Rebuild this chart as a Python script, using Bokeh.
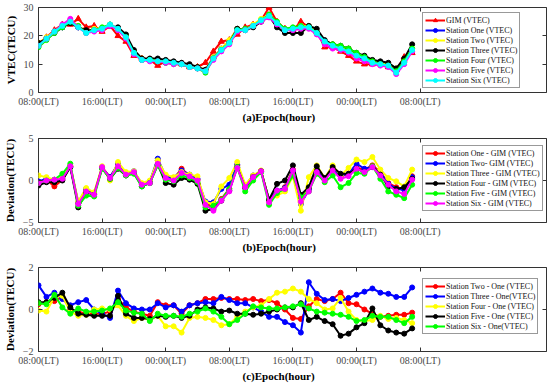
from bokeh.plotting import figure
from bokeh.models import Range1d, FixedTicker, LinearAxis, Title
from bokeh.layouts import column
from bokeh.embed import file_html
from bokeh.resources import INLINE

# ---------------- data ----------------
hours = list(range(48))
xtick_values = [0, 8, 16, 24, 32, 40, 48]
xtick_labels = ["08:00(LT)", "16:00(LT)", "00:00(LT)", "08:00(LT)",
                "16:00(LT)", "00:00(LT)", "08:00(LT)"]

# (a) VTEC
gim_vtec = [17.0, 19.5, 22.0, 24.0, 24.0, 26.0, 23.0, 23.5, 21.5, 23.5, 20.0, 18.0,
            13.0, 12.0, 11.5, 9.5, 11.0, 10.5, 10.0, 9.0, 9.0, 10.5, 14.5, 18.0,
            18.5, 20.5, 23.0, 24.0, 25.5, 30.0, 25.0, 22.5, 22.0, 25.0, 23.0, 21.5,
            16.0, 16.0, 14.5, 13.0, 11.0, 10.0, 10.0, 10.0, 9.0, 8.0, 12.5, 14.0]
st1_vtec = [17.0, 19.0, 21.5, 23.0, 25.5, 23.0, 21.5, 22.0, 22.5, 24.0, 22.0, 19.5,
            14.0, 11.5, 11.5, 11.5, 10.5, 10.5, 10.0, 9.0, 8.5, 8.0, 12.5, 15.5,
            18.0, 22.5, 22.0, 23.5, 25.5, 27.5, 24.0, 22.0, 22.5, 23.0, 23.5, 21.5,
            17.5, 16.5, 15.5, 14.5, 13.0, 11.5, 10.5, 10.0, 9.5, 7.5, 10.5, 15.0]
st2_vtec = [17.5, 19.5, 21.5, 23.5, 25.5, 23.5, 21.5, 22.5, 22.5, 24.0, 22.0, 20.0,
            14.5, 12.0, 11.5, 11.5, 11.0, 10.5, 10.0, 9.5, 9.0, 8.0, 12.5, 15.5,
            18.5, 22.5, 22.0, 24.0, 26.0, 27.5, 24.0, 22.0, 22.5, 23.5, 23.5, 21.5,
            18.0, 17.0, 16.0, 15.5, 13.5, 12.5, 11.0, 10.5, 10.0, 8.5, 11.0, 15.5]
st3_vtec = [17.5, 19.0, 21.0, 23.0, 24.5, 23.0, 22.0, 22.0, 22.5, 23.5, 23.0, 20.5,
            15.0, 12.0, 12.0, 12.0, 11.5, 11.0, 10.5, 10.0, 9.0, 8.0, 12.0, 15.0,
            17.5, 22.5, 22.0, 23.0, 25.0, 27.0, 23.0, 21.0, 21.0, 21.0, 23.5, 22.5,
            18.5, 17.0, 16.5, 15.5, 14.0, 13.0, 11.5, 11.0, 10.5, 8.5, 12.0, 17.0]
st4_vtec = [16.0, 18.5, 21.0, 23.0, 25.0, 23.5, 21.0, 22.0, 23.0, 24.0, 22.0, 19.5,
            14.0, 11.5, 11.5, 11.0, 10.5, 10.0, 10.0, 9.0, 8.5, 7.0, 12.0, 15.0,
            17.5, 22.0, 22.5, 23.5, 25.5, 27.5, 25.0, 22.5, 23.0, 23.5, 23.0, 21.0,
            17.5, 17.0, 16.5, 15.5, 14.0, 12.5, 11.0, 10.0, 9.5, 7.5, 11.0, 15.5]
st5_vtec = [16.5, 19.0, 21.5, 24.0, 26.0, 23.0, 21.0, 21.5, 22.0, 23.5, 22.0, 19.0,
            13.5, 11.5, 11.0, 11.0, 10.5, 10.0, 10.0, 9.0, 8.5, 7.5, 11.5, 14.5,
            17.0, 21.5, 22.0, 23.5, 25.0, 26.5, 24.0, 22.0, 22.0, 22.5, 22.5, 20.5,
            17.0, 15.5, 15.0, 14.0, 12.0, 11.0, 10.0, 9.5, 9.0, 6.5, 10.0, 14.5]
st6_vtec = [16.5, 19.0, 21.5, 23.5, 25.0, 23.0, 21.0, 22.0, 22.5, 24.0, 22.5, 19.5,
            14.0, 11.5, 11.5, 11.0, 11.0, 10.5, 10.0, 9.0, 8.5, 7.5, 12.0, 15.0,
            17.5, 22.0, 22.0, 23.5, 25.5, 27.0, 24.5, 22.0, 22.5, 23.0, 23.0, 21.0,
            18.0, 16.5, 15.5, 14.5, 13.0, 12.0, 10.5, 10.0, 9.5, 7.0, 10.5, 15.0]

# (b) station - GIM
d1_gim = [-0.2, 0.1, -0.7, 0.1, 1.7, -2.7, -1.2, -1.6, 1.6, 0.4, 1.9, 0.8, 1.0, -0.5, -0.2, 2.4,
          0.4, 0.2, 1.4, 0.6, 0.1, -2.7, -3.2, -2.2, -1.0, 1.8, -0.7, 0.5, 1.1, -2.4, -1.3, -0.8,
          1.3, -2.6, -1.0, 1.3, 0.2, 1.3, 0.5, 0.8, 1.5, 1.3, 1.8, 1.0, -0.3, -0.8, -1.0, 0.5]
d2_gim = [-0.1, 0.2, 0.0, 0.2, 1.6, -2.6, -1.0, -1.5, 1.5, 0.4, 2.0, 0.9, 1.1, -0.4, -0.1, 2.6,
          0.5, 0.3, 1.2, 0.7, 0.2, -2.5, -2.6, -1.0, -0.5, 1.9, -0.6, 0.6, 1.1, -2.3, -1.2, -0.9,
          1.1, -2.8, -1.1, 1.4, 0.2, 1.3, 0.6, 0.8, 2.0, 1.4, 1.6, 0.9, -0.4, -1.0, -1.1, 0.4]
d3_gim = [0.6, 0.4, 0.1, 0.3, 1.8, -2.5, -0.9, -1.4, 1.7, 0.0, 2.2, 1.0, 1.1, -0.3, 0.0, 2.4,
          0.7, 0.4, 1.0, 0.7, 0.5, -2.6, -2.8, -0.7, 0.3, 2.2, -0.5, 0.6, 1.2, -2.3, -1.8, -1.3,
          0.5, -3.6, 0.4, 1.8, 0.3, 1.8, 0.6, 1.5, 2.5, 2.2, 2.8, 1.3, 0.3, -0.1, -0.7, 1.3]
d4_gim = [-0.6, -0.2, -0.2, 0.0, 1.6, -3.2, -1.4, -1.7, 1.5, 0.2, 1.4, 0.6, 0.9, -0.7, -0.3, 1.9,
          -0.3, -0.5, 0.3, 0.1, -0.4, -3.6, -3.4, -2.4, -1.2, 1.6, -0.9, 0.4, 1.1, -2.3, -0.4, 0.0,
          1.8, -1.7, -0.8, 1.7, 0.3, 1.6, 0.8, 0.8, 1.4, 1.0, 1.6, 0.7, -0.7, -1.0, -0.8, 0.2]
d5_gim = [-0.3, 0.0, 0.1, 0.8, 2.0, -3.0, -1.8, -1.9, 1.4, 0.2, 1.5, 0.6, 0.8, -0.7, -0.3, 1.8,
          0.1, -0.1, 0.6, 0.3, -0.2, -3.2, -3.0, -2.3, -1.0, 1.6, -1.3, 0.0, 1.0, -2.9, -1.5, -1.0,
          0.6, -2.0, -1.3, 0.8, -0.2, 0.6, -0.8, -0.3, 0.9, 0.8, 1.7, 0.2, -1.3, -1.7, -2.1, -0.5]
d6_gim = [-0.3, 0.0, 0.1, 0.2, 1.7, -2.8, -1.3, -1.7, 1.6, 0.3, 1.7, 0.7, 1.0, -0.5, -0.3, 2.0,
          0.3, 0.0, 0.9, 0.5, 0.0, -2.9, -3.6, -2.4, -1.3, 1.5, -0.8, 0.4, 1.1, -2.6, -1.2, -1.0,
          1.2, -2.5, -1.3, 1.0, 0.0, 1.2, 0.2, 0.5, 1.4, 1.0, 1.6, 0.6, -0.5, -1.3, -1.6, 0.1]

# (c) station - station one
d2_one = [0.25, 0.35, 0.4, 0.6, 0.0, -0.1, -0.2, -0.2, -0.2, -0.1, 0.5, 0.1, -0.1, -0.2, -0.3, 0.35,
          0.2, 0.2, -0.2, 0.2, 0.3, 0.5, 0.5, 0.55, 0.5, 0.5, 0.45, 0.5, 0.4, 0.45, 0.3, 0.0,
          -0.4, -0.45, 0.15, 0.5, 0.4, 0.5, 0.8, 0.3, 0.25, 0.0, -0.2, -0.35, -0.3, -0.25, -0.25, -0.15]
d3_one = [1.15, 0.6, 0.8, 0.5, 0.2, 0.35, 0.45, 0.0, -0.2, -0.4, 0.9, 0.3, 0.05, 0.0, 0.0, 0.3,
          0.1, 0.2, -0.1, 0.2, 0.3, 0.35, 0.3, 0.6, 0.45, 0.3, 0.3, 0.1, -0.1, -0.35, -0.35, -0.6,
          -0.75, -1.1, 1.3, 0.75, 0.45, 0.5, 0.4, 0.55, 0.7, 0.85, 1.0, 0.8, 0.75, 0.6, 0.6, 1.05]
d4_one = [-0.05, -0.1, 0.6, 0.65, -0.1, -0.3, -0.25, 0.0, 0.05, 0.0, 0.2, -0.3, -0.55, -0.4, -0.5, -0.3,
          -0.8, -0.8, -1.1, -0.4, -0.35, -0.4, -0.5, -0.75, -0.7, -0.35, -0.1, 0.1, 0.2, 0.5, 0.8, 0.85,
          1.0, 0.85, 0.5, 0.3, 0.0, 0.05, 0.55, -0.1, -0.5, -0.55, -0.5, -0.3, -0.45, -0.4, -0.5, -0.65]
d5_one = [0.35, 0.35, 0.55, 0.8, 0.1, -0.2, -0.25, -0.3, -0.3, -0.3, 0.65, -0.2, -0.4, -0.4, -0.45, -0.3,
          -0.35, -0.3, -0.4, -0.3, 0.0, 0.1, 0.05, -0.1, -0.05, -0.2, -0.2, -0.25, -0.2, -0.1, 0.0, 0.1,
          0.1, 0.3, -0.5, -0.35, -0.55, -0.7, -1.25, -1.15, -0.85, -0.65, 0.05, -0.75, -1.0, -1.1, -1.15, -0.9]
d6_one = [0.3, 0.25, 0.7, 0.1, -0.2, 0.05, -0.1, -0.1, -0.05, 0.05, 0.35, -0.05, -0.15, -0.2, -0.55, -0.2,
          -0.3, -0.3, -0.35, -0.2, -0.1, 0.05, -0.1, -0.35, -0.7, -0.5, -0.2, 0.15, 0.1, 0.05, 0.05, 0.1,
          0.15, 0.25, 0.05, -0.1, -0.15, -0.2, -0.25, -0.35, -0.55, -0.5, -0.3, -0.35, -0.35, -0.5, -0.65, -0.35]

panel_a = [("GIM (VTEC)", gim_vtec, "#FF0000", "triangle"),
           ("Station One (VTEC)", st1_vtec, "#0000FF", "circle"),
           ("Station Two (VTEC)", st2_vtec, "#FFFF00", "circle"),
           ("Station Three (VTEC)", st3_vtec, "#000000", "circle"),
           ("Station Four (VTEC)", st4_vtec, "#00FF00", "circle"),
           ("Station Five (VTEC)", st5_vtec, "#FF00FF", "circle"),
           ("Station Six (VTEC)", st6_vtec, "#00FFFF", "circle")]
panel_b = [("Station One - GIM (VTEC)", d1_gim, "#FF0000", "circle"),
           ("Station Two- GIM (VTEC)", d2_gim, "#0000FF", "circle"),
           ("Station Three - GIM (VTEC)", d3_gim, "#FFFF00", "circle"),
           ("Station Four - GIM (VTEC)", d4_gim, "#000000", "circle"),
           ("Station Five - GIM (VTEC)", d5_gim, "#00FF00", "circle"),
           ("Station Six - GIM (VTEC)", d6_gim, "#FF00FF", "circle")]
panel_c = [("Station Two - One (VTEC)", d2_one, "#FF0000", "circle"),
           ("Station Three - One(VTEC)", d3_one, "#0000FF", "circle"),
           ("Station Four - One (VTEC)", d4_one, "#FFFF00", "circle"),
           ("Station Five - One (VTEC)", d5_one, "#000000", "circle"),
           ("Station Six - One(VTEC)", d6_one, "#00FF00", "circle")]

SERIF = "Liberation Serif"


def style_axis(ax, ticks, show_labels, standoff=4, overrides=None):
    ax.ticker = FixedTicker(ticks=ticks)
    ax.axis_line_color = None
    ax.major_tick_in = 4
    ax.major_tick_out = 0
    ax.major_tick_line_color = "#333333"
    ax.minor_tick_line_color = None
    if overrides:
        ax.major_label_overrides = overrides
    if show_labels:
        ax.major_label_text_font = SERIF
        ax.major_label_text_font_size = "10px"
        ax.major_label_text_color = "#4a4a4a"
        ax.major_label_standoff = standoff
    else:
        ax.major_label_text_color = None
        ax.major_label_text_font_size = "1px"
        ax.major_label_standoff = 0


def make_panel(height, border_bottom, yr, yticks, ylabel, xlabel, series, legend_y):
    p = figure(width=548, height=height, output_backend="svg", toolbar_location=None,
               x_range=Range1d(0, 63.9), y_range=Range1d(yr[0], yr[1]),
               min_border_left=33, min_border_right=2, min_border_top=7,
               min_border_bottom=border_bottom)
    p.grid.visible = False
    p.outline_line_color = "#333333"
    p.outline_line_width = 1
    overrides = {v: t for v, t in zip(xtick_values, xtick_labels)}
    style_axis(p.xaxis[0], xtick_values, True, 3, overrides)
    style_axis(p.yaxis[0], yticks, True, 5)
    yax = p.yaxis[0]
    yax.axis_label = ylabel
    yax.axis_label_text_font = SERIF
    yax.axis_label_text_font_style = "bold"
    yax.axis_label_text_font_size = "11px"
    yax.axis_label_text_color = "#000000"
    yax.axis_label_standoff = 4

    top = LinearAxis()
    right = LinearAxis()
    p.add_layout(top, "above")
    p.add_layout(right, "right")
    style_axis(top, xtick_values, False)
    style_axis(right, yticks, False)

    for label, vals, color, marker in series:
        p.line(hours, vals, line_color=color, line_width=2, legend_label=label)
        p.scatter(hours, vals, marker=marker, size=6 if marker == "triangle" else 5,
                  fill_color=color, line_color=color, legend_label=label)

    lg = p.legend[0]
    lg.location = (384, legend_y)
    lg.label_text_font = SERIF
    lg.label_text_font_size = "8px"
    lg.label_text_color = "#111111"
    lg.label_height = 10
    lg.glyph_height = 10
    lg.glyph_width = 20
    lg.label_standoff = 1
    lg.spacing = 0
    lg.padding = 2
    lg.margin = 0
    lg.border_line_color = "#333333"
    lg.border_line_width = 1
    lg.background_fill_alpha = 1

    p.add_layout(Title(text=xlabel, align="left", offset=204, standoff=-2,
                       text_font=SERIF, text_font_style="bold", text_font_size="11px",
                       text_color="#000000"), "below")
    return p


pa = make_panel(131, 39, (0, 30), [0, 10, 20, 30], "VTEC(TECU)", "(a)Epoch(hour)", panel_a, 4)
pb = make_panel(129, 38, (-5, 5), [-5, 0, 5], "Deviation(TECU)", "(b)Epoch(hour)", panel_b, 11)
pc = make_panel(126, 35, (-2, 2), [-2, 0, 2], "Deviation(TECU)", "(c)Epoch(hour)", panel_c, 17)

layout = column(pa, pb, pc, spacing=0)
open("out.html", "w").write(file_html(layout, INLINE))
